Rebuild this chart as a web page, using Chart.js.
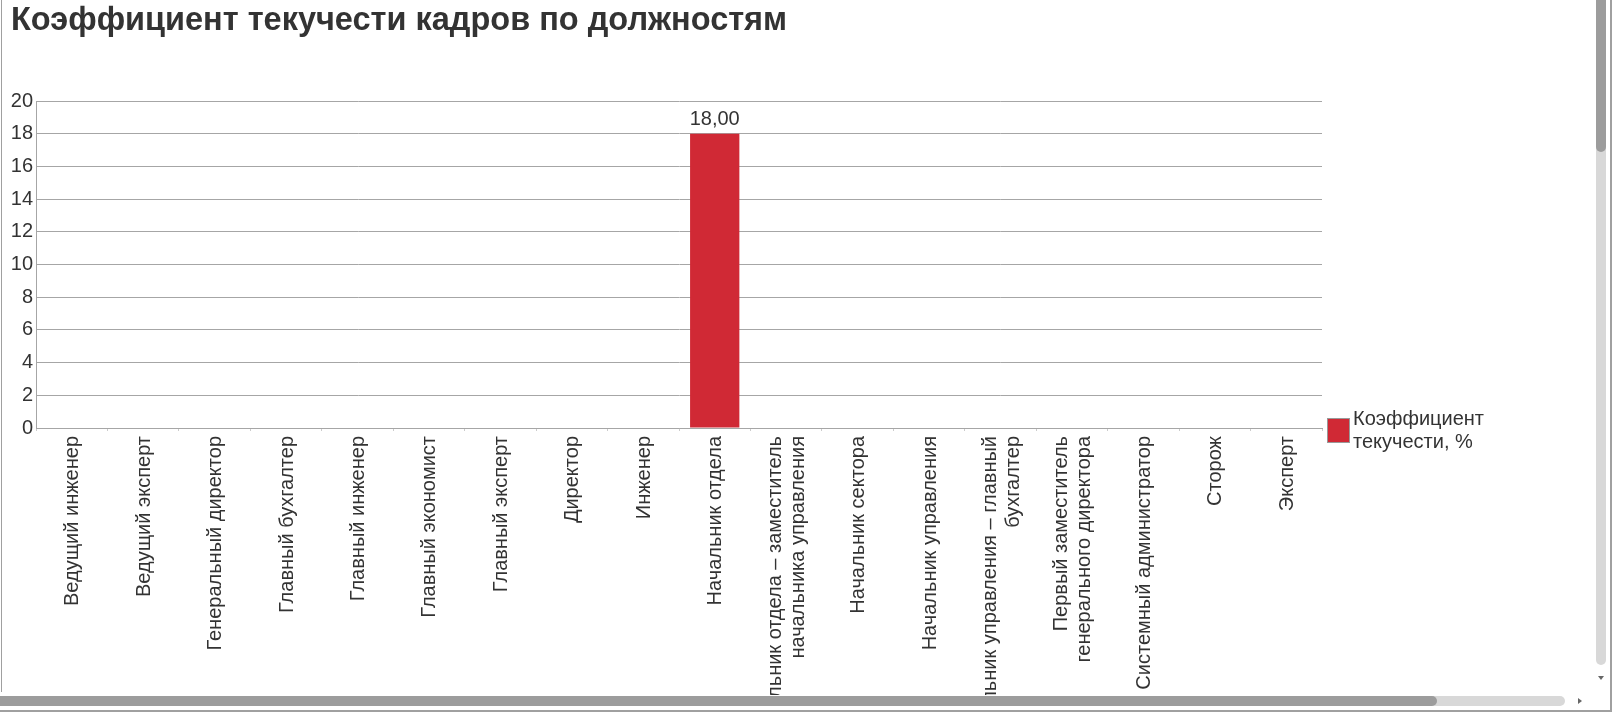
<!DOCTYPE html>
<html lang="ru">
<head>
<meta charset="utf-8">
<title>Коэффициент текучести кадров по должностям</title>
<script src="https://cdn.jsdelivr.net/npm/chart.js@4.4.1/dist/chart.umd.min.js"></script>
<style>
    html, body { margin: 0; padding: 0; background: #fff; overflow: hidden; }
    #frame { position: absolute; left: 0; top: 0; width: 1610px; height: 710px;
             border-right: 2px solid #a0a0a0; border-bottom: 2px solid #a0a0a0; }
    #viewport { position: absolute; left: 0; top: 0; width: 1595px; height: 695px; overflow: hidden; }
    #leftEdge { position: absolute; left: 1px; top: 0; width: 1px; height: 692px; background: #a0a0a0; }
    .bar { position: absolute; }
    #vTrack { left: 1596px; top: 0; width: 10px; height: 665px; background: #d8d8d8; border-radius: 0 0 5px 5px; }
    #vThumb { left: 1596px; top: 0; width: 10px; height: 152px; background: #9c9c9c; border-radius: 0 0 5px 5px; }
    #hTrack { left: 0; top: 696px; width: 1565px; height: 10px; background: #d8d8d8; border-radius: 0 5px 5px 0; }
    #hThumb { left: 0; top: 696px; width: 1437px; height: 10px; background: #9c9c9c; border-radius: 0 5px 5px 0; }
    .arrow { position: absolute; width: 0; height: 0; }
    #downArrow { left: 1598px; top: 676px; border-left: 3px solid transparent; border-right: 3px solid transparent; border-top: 4px solid #666; }
    #rightArrow { left: 1578px; top: 698px; border-top: 3px solid transparent; border-bottom: 3px solid transparent; border-left: 4px solid #666; }
</style>
</head>
<body>
<div id="frame">
    <div id="viewport">
        <canvas id="turnoverChart" width="1595" height="800"></canvas>
    </div>
    <div id="leftEdge"></div>
    <div class="bar" id="vTrack"></div>
    <div class="bar" id="vThumb"></div>
    <div class="bar" id="hTrack"></div>
    <div class="bar" id="hThumb"></div>
    <div class="arrow" id="downArrow"></div>
    <div class="arrow" id="rightArrow"></div>
</div>
<script>
const chartTitle = 'Коэффициент текучести кадров по должностям';
const seriesLabel = 'Коэффициент текучести, %';

// positions (long names wrap onto two lines like in the report)
const positions = [
    'Ведущий инженер',
    'Ведущий эксперт',
    'Генеральный директор',
    'Главный бухгалтер',
    'Главный инженер',
    'Главный экономист',
    'Главный эксперт',
    'Директор',
    'Инженер',
    'Начальник отдела',
    ['Начальник отдела – заместитель', 'начальника управления'],
    'Начальник сектора',
    'Начальник управления',
    ['Начальник управления – главный', 'бухгалтер'],
    ['Первый заместитель', 'генерального директора'],
    'Системный администратор',
    'Сторож',
    'Эксперт'
];
const turnoverRate = [0, 0, 0, 0, 0, 0, 0, 0, 0, 18, 0, 0, 0, 0, 0, 0, 0, 0];

const yMin = 0;
const yMax = 20;
const yStep = 2;

const FONT = "'Liberation Sans', Arial, sans-serif";
const TEXT = '#333333';
const GRID = '#a6a6a6';
const BAR = '#d02935';

const PLOT_BOTTOM = 428; // where the zero line sits on the canvas

// value labels above the bars, "18,00"
const valueLabels = {
    id: 'valueLabels',
    afterDatasetsDraw(chart) {
        const ctx = chart.ctx;
        const meta = chart.getDatasetMeta(0);
        ctx.save();
        ctx.font = '20px ' + FONT;
        ctx.fillStyle = TEXT;
        ctx.textAlign = 'center';
        ctx.textBaseline = 'bottom';
        meta.data.forEach((bar, i) => {
            const v = chart.data.datasets[0].data[i];
            if (!v) return;
            ctx.fillText(v.toFixed(2).replace('.', ','), bar.x, bar.y - 4);
        });
        ctx.restore();
    }
};

// category names, vertical, both lines of a wrapped name centred on the tick
const verticalLabels = {
    id: 'verticalLabels',
    afterDraw(chart) {
        const ctx = chart.ctx;
        const xScale = chart.scales.x;
        const lineHeight = 23;
        ctx.save();
        ctx.font = '20px ' + FONT;
        ctx.fillStyle = TEXT;
        ctx.textAlign = 'right';
        ctx.textBaseline = 'middle';
        chart.data.labels.forEach((label, i) => {
            const lines = Array.isArray(label) ? label : [label];
            const cx = xScale.getPixelForValue(i);
            const top = xScale.top + 8;
            lines.forEach((line, k) => {
                const dx = (k - (lines.length - 1) / 2) * lineHeight;
                ctx.save();
                ctx.translate(cx + dx + 1, top);
                ctx.rotate(-Math.PI / 2);
                ctx.fillText(line, 0, 0);
                ctx.restore();
            });
        });
        ctx.restore();
    }
};

// legend on the right, text split over two lines
const sideLegend = {
    id: 'sideLegend',
    afterDraw(chart) {
        const ctx = chart.ctx;
        const ds = chart.data.datasets[0];
        const area = chart.chartArea;
        const x = area.right + 5;
        const y = area.bottom - 10;
        ctx.save();
        ctx.fillStyle = ds.backgroundColor;
        ctx.fillRect(x, y, 23, 25);
        ctx.strokeStyle = '#999999';
        ctx.lineWidth = 1;
        ctx.strokeRect(x + 0.5, y + 0.5, 22, 24);
        const cut = ds.label.indexOf(' ');
        const lines = [ds.label.slice(0, cut), ds.label.slice(cut + 1)];
        ctx.font = '20px ' + FONT;
        ctx.fillStyle = TEXT;
        ctx.textAlign = 'left';
        ctx.textBaseline = 'alphabetic';
        lines.forEach((line, i) => ctx.fillText(line, x + 26, y + 7 + i * 23));
        ctx.restore();
    }
};

const ctx = document.getElementById('turnoverChart').getContext('2d');
new Chart(ctx, {
    type: 'bar',
    data: {
        labels: positions,
        datasets: [{
            label: seriesLabel,
            data: turnoverRate,
            backgroundColor: BAR,
            borderWidth: 0,
            barPercentage: 0.69,
            categoryPercentage: 1
        }]
    },
    options: {
        responsive: false,
        animation: false,
        layout: { padding: { left: 11, right: 273, top: 0, bottom: 0 } },
        plugins: {
            legend: { display: false },
            tooltip: { enabled: false },
            title: {
                display: true,
                text: chartTitle,
                align: 'start',
                color: TEXT,
                font: { family: FONT, size: 32.5, weight: 'bold' },
                padding: { top: 2, bottom: 60 }
            }
        },
        scales: {
            x: {
                grid: { display: true, drawOnChartArea: false, drawTicks: true, tickLength: 3, color: '#cccccc', offset: true },
                border: { display: true, color: GRID },
                ticks: { display: false, autoSkip: false },
                afterFit(scale) {
                    scale.height = 800 - PLOT_BOTTOM;
                }
            },
            y: {
                min: yMin,
                max: yMax,
                grid: { color: GRID, drawTicks: false },
                border: { display: true, color: GRID },
                ticks: {
                    stepSize: yStep,
                    padding: 3,
                    color: TEXT,
                    font: { family: FONT, size: 20 }
                },
                afterFit(scale) {
                    scale.width = 25;
                }
            }
        }
    },
    plugins: [valueLabels, verticalLabels, sideLegend]
});
</script>
</body>
</html>
